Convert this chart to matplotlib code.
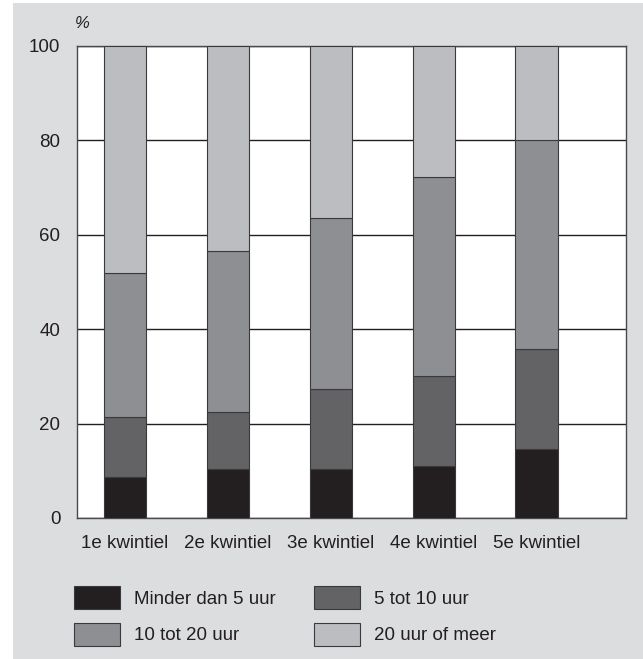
import matplotlib.pyplot as plt
import numpy as np
from matplotlib.patches import Rectangle

# Data (percentages, stacked)
categories = ['1e kwintiel', '2e kwintiel', '3e kwintiel', '4e kwintiel', '5e kwintiel']
minder_dan_5 = [8.7, 10.4, 10.3, 11.0, 14.6]
tot_10 = [12.8, 12.1, 17.0, 19.1, 21.2]
tot_20 = [30.5, 34.1, 36.3, 42.1, 44.3]
of_meer = [48.0, 43.4, 36.4, 27.8, 19.9]

series_labels = ['Minder dan 5 uur', '5 tot 10 uur', '10 tot 20 uur', '20 uur of meer']
colors = ['#231f20', '#636365', '#8e8f92', '#bcbdc0']
bg = '#dcdddf'
fs = 13.5

plt.rcParams['font.family'] = ['Liberation Sans', 'DejaVu Sans']

fig = plt.figure(figsize=(6.43, 6.59), dpi=100, facecolor='white')
# grey panel behind the chart, leaving a thin white strip at left and top
fig.patches.append(Rectangle((13 / 643, 0), 1 - 13 / 643, 1 - 3 / 659,
                             transform=fig.transFigure, facecolor=bg,
                             edgecolor='none', zorder=-10))

ax = fig.add_axes([77 / 643, 1 - 518 / 659, (626 - 77) / 643, (518 - 46) / 659])
ax.set_facecolor('white')

x = np.arange(len(categories))
bottom = np.zeros(len(categories))
handles = []
for vals, lab, col in zip([minder_dan_5, tot_10, tot_20, of_meer], series_labels, colors):
    b = ax.bar(x, vals, width=0.41, bottom=bottom, color=col, edgecolor='#3a3a3c',
               linewidth=0.8, label=lab, zorder=3)
    handles.append(b)
    bottom += np.array(vals)

ax.set_ylim(0, 100)
ax.set_xlim(-0.466, 4.87)
ax.set_yticks([0, 20, 40, 60, 80, 100])
ax.set_xticks(x)
ax.set_xticklabels(categories)
ax.tick_params(length=0, labelsize=fs, colors='#231f20')
ax.tick_params(axis='y', pad=12)
ax.tick_params(axis='x', pad=12)
ax.yaxis.grid(True, color='#231f20', linewidth=1.0, zorder=1)
for s in ax.spines.values():
    s.set_color('#4a4a4c')
    s.set_linewidth(1.0)

fig.text(75 / 643, 1 - 24 / 659, '%', fontsize=12, style='italic',
         color='#231f20', va='center')

order = [0, 2, 1, 3]
leg = fig.legend([handles[i] for i in order], [series_labels[i] for i in order],
                 ncol=2, loc='upper left', bbox_to_anchor=(57.5 / 643, 1 - 569 / 659),
                 frameon=False, fontsize=fs, handlelength=2.45, handleheight=1.5,
                 handletextpad=0.75, columnspacing=2.0, labelspacing=0.75)
for t in leg.get_texts():
    t.set_color('#231f20')

fig.savefig('out.png', dpi=100, facecolor='white')
